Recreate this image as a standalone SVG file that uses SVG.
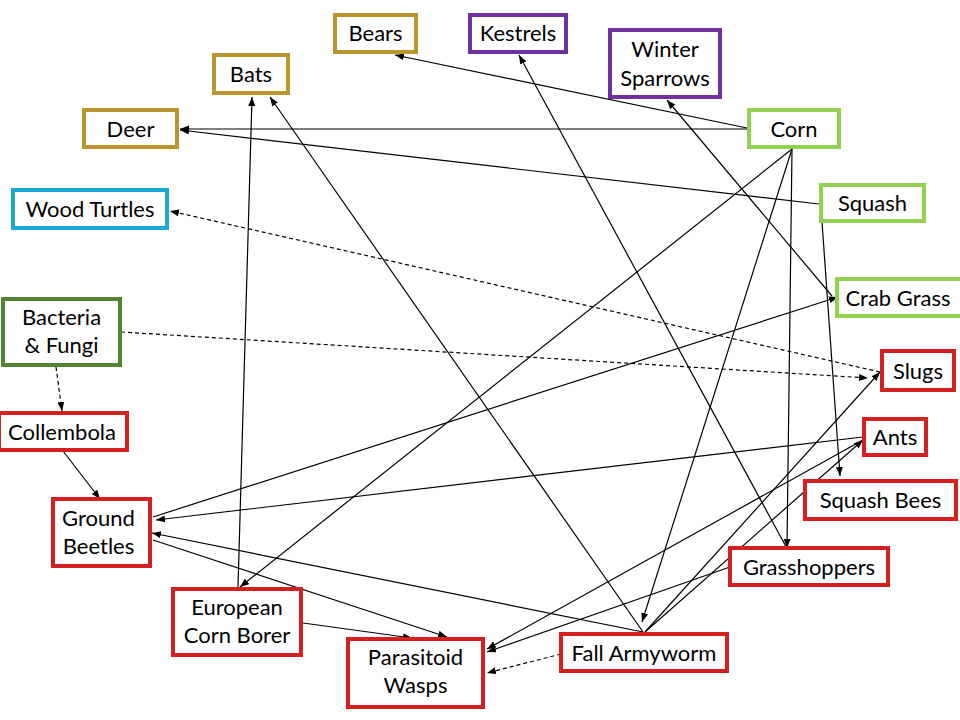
<svg xmlns="http://www.w3.org/2000/svg" width="960" height="720" viewBox="0 0 960 720">
<defs>
<marker id="ah" markerUnits="userSpaceOnUse" markerWidth="10" markerHeight="8" refX="9" refY="3.5" orient="auto">
<path d="M0,0 L9,3.5 L0,7 z" fill="#000"/>
</marker>
<style>
.box{fill:#fff;stroke-width:4}
.gold{stroke:#B8952F}
.purple{stroke:#7030A0}
.lgreen{stroke:#92D050}
.cyan{stroke:#1AA7D9}
.dgreen{stroke:#548235}
.red{stroke:#D42020}
text{font-family:Lato,"Open Sans","Liberation Sans",sans-serif;font-size:22px;fill:#000;text-anchor:middle}
.e{fill:none;stroke:#000;stroke-width:1.2;marker-end:url(#ah)}
.d{stroke-dasharray:4 3}
</style>
</defs>
<rect width="960" height="720" fill="#fff"/>
<g id="connectors">
<line class="e" x1="747" y1="128" x2="395" y2="55"/>
<line class="e" x1="747" y1="129" x2="180" y2="129"/>
<line class="e" x1="819" y1="204" x2="180" y2="130"/>
<line class="e" x1="792" y1="149" x2="240" y2="587"/>
<line class="e" x1="792" y1="149" x2="642" y2="622"/>
<line class="e" x1="792" y1="149" x2="787" y2="548"/>
<line class="e" x1="822" y1="222" x2="840" y2="476"/>
<line class="e" x1="832" y1="296" x2="667" y2="100"/>
<line class="e" x1="153" y1="517" x2="838" y2="297"/>
<line class="e" x1="790" y1="554" x2="519" y2="55"/>
<line class="e" x1="643" y1="632" x2="270" y2="97"/>
<line class="e" x1="238" y1="587" x2="252" y2="97"/>
<line class="e d" x1="880" y1="372" x2="170" y2="211"/>
<line class="e d" x1="121" y1="332" x2="868" y2="378"/>
<line class="e d" x1="56" y1="367" x2="62" y2="411"/>
<line class="e" x1="63" y1="451" x2="100" y2="499"/>
<line class="e" x1="863" y1="437" x2="156" y2="520"/>
<line class="e" x1="643" y1="632" x2="152" y2="533"/>
<line class="e" x1="153" y1="540" x2="447" y2="637"/>
<line class="e" x1="303" y1="623" x2="412" y2="638"/>
<line class="e" x1="645" y1="632" x2="880" y2="372"/>
<line class="e" x1="645" y1="632" x2="863" y2="440"/>
<line class="e" x1="863" y1="440" x2="487" y2="649"/>
<line class="e" x1="730" y1="567" x2="487" y2="652"/>
<line class="e d" x1="561" y1="654" x2="487" y2="673"/>
</g>
<g id="bears"><rect class="box gold" x="335" y="15" width="81" height="37"/><text x="375.5" y="41">Bears</text></g>
<g id="kestrels"><rect class="box purple" x="470" y="15" width="96" height="37"/><text x="518" y="41">Kestrels</text></g>
<g id="winter-sparrows"><rect class="box purple" x="610" y="30" width="110" height="67"/><text x="665" y="57">Winter</text><text x="665" y="86">Sparrows</text></g>
<g id="bats"><rect class="box gold" x="214" y="55" width="74" height="38"/><text x="251" y="82">Bats</text></g>
<g id="deer"><rect class="box gold" x="84" y="110" width="93" height="37"/><text x="130.5" y="137">Deer</text></g>
<g id="corn"><rect class="box lgreen" x="749" y="110" width="90" height="37"/><text x="794" y="137">Corn</text></g>
<g id="squash"><rect class="box lgreen" x="821" y="185" width="103" height="36"/><text x="872.5" y="211">Squash</text></g>
<g id="wood-turtles"><rect class="box cyan" x="13" y="190" width="154" height="38"/><text x="90" y="217">Wood Turtles</text></g>
<g id="crab-grass"><rect class="box lgreen" x="837" y="279" width="130" height="37"/><text x="898" y="306">Crab Grass</text></g>
<g id="bacteria-fungi"><rect class="box dgreen" x="3" y="299" width="117" height="66"/><text x="61.5" y="325">Bacteria</text><text x="61.5" y="353">&amp; Fungi</text></g>
<g id="slugs"><rect class="box red" x="882" y="351" width="72" height="39"/><text x="918" y="379">Slugs</text></g>
<g id="collembola"><rect class="box red" x="-1" y="413" width="128" height="37"/><text x="62" y="440">Collembola</text></g>
<g id="ants"><rect class="box red" x="864" y="419" width="62" height="36"/><text x="895" y="445">Ants</text></g>
<g id="squash-bees"><rect class="box red" x="805" y="481" width="151" height="38"/><text x="880.5" y="508">Squash Bees</text></g>
<g id="ground-beetles"><rect class="box red" x="53" y="499" width="97" height="67"/><text x="98.5" y="526">Ground</text><text x="98.5" y="554">Beetles</text></g>
<g id="grasshoppers"><rect class="box red" x="730" y="548" width="158" height="37"/><text x="809" y="575">Grasshoppers</text></g>
<g id="european-corn-borer"><rect class="box red" x="173" y="589" width="128" height="66"/><text x="237" y="615">European</text><text x="237" y="643">Corn Borer</text></g>
<g id="parasitoid-wasps"><rect class="box red" x="348" y="639" width="135" height="68"/><text x="415.5" y="665">Parasitoid</text><text x="415.5" y="693">Wasps</text></g>
<g id="fall-armyworm"><rect class="box red" x="561" y="634" width="166" height="37"/><text x="644" y="661">Fall Armyworm</text></g>
</svg>
